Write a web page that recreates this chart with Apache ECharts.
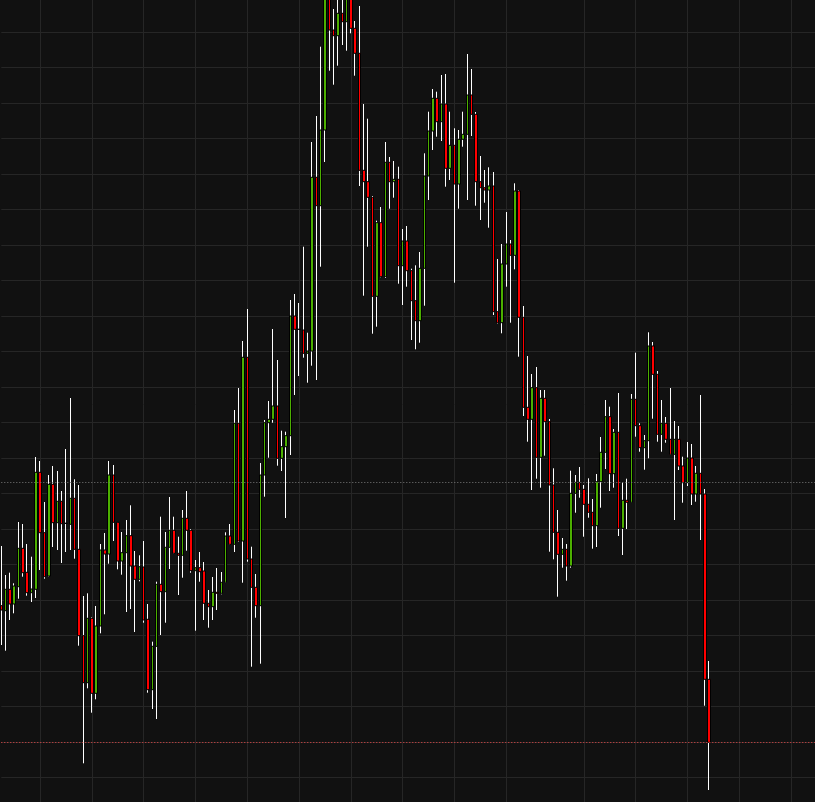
<!DOCTYPE html>
<html>
<head>
<meta charset="utf-8">
<script src="https://cdn.jsdelivr.net/npm/echarts@6/dist/echarts.min.js"></script>
<style>
html,body{margin:0;padding:0;background:#111111;overflow:hidden;width:815px;height:802px;}
#wrap{position:relative;width:815px;height:802px;overflow:hidden;background:#111111;}
#chart{position:absolute;left:0;top:-4px;width:820px;height:821px;}
</style>
</head>
<body>
<div id="wrap"><div id="chart"></div></div>
<script>
const opens = [20.73,20.23,22.37,20.90,22.63,26.47,24.07,22.03,22.37,34.07,
28.03,23.70,32.87,29.03,31.17,28.97,28.87,31.47,26.37,17.73,
13.03,19.47,11.97,18.70,26.30,25.90,33.80,29.07,25.20,26.03,
27.73,24.70,23.37,24.60,19.37,12.33,16.67,22.87,22.13,26.57,
28.27,25.97,25.77,29.47,28.27,24.23,24.53,24.20,20.97,20.63,
22.07,21.97,23.07,27.70,26.87,38.97,27.20,45.57,25.40,22.57,
20.73,33.80,39.03,39.37,40.70,35.47,36.63,37.73,49.70,48.37,
48.30,45.97,46.20,63.57,60.73,68.30,81.60,78.30,77.73,79.97,
79.13,81.50,78.47,75.97,64.27,63.13,61.57,51.67,59.03,53.63,
65.07,63.13,63.37,54.73,57.20,54.23,51.23,49.23,54.47,63.70,
68.20,71.47,69.13,70.90,64.47,66.77,62.90,67.37,67.87,71.80,
69.87,63.13,62.53,62.30,62.70,50.13,49.03,54.90,56.90,55.77,
62.20,49.57,40.57,39.37,42.53,35.57,41.47,39.13,32.80,28.07,
25.87,26.37,24.70,31.97,33.07,32.37,30.87,30.07,28.73,33.13,
36.07,39.63,33.93,38.07,28.47,31.27,31.07,41.37,38.73,36.53,
37.23,46.70,43.87,37.87,38.97,37.37,35.87,37.37,34.70,33.03,
35.50,31.90,33.97,31.90,13.37];

const closes = [20.30,22.37,20.90,22.70,26.47,24.03,22.03,22.40,34.07,28.03,
23.63,32.87,29.03,31.17,28.93,28.97,31.47,26.37,17.73,13.03,
19.47,11.97,18.70,26.30,25.90,33.80,29.07,25.20,26.03,27.73,
24.70,23.37,24.63,19.30,12.33,16.67,22.87,22.13,26.57,28.27,
25.97,25.77,29.47,28.27,24.23,24.53,24.13,20.97,20.63,22.07,
21.97,23.07,27.70,26.87,38.97,27.20,45.57,25.40,22.57,20.73,
33.80,39.03,39.37,40.70,35.47,36.63,37.73,49.70,48.37,48.37,
45.97,46.20,63.57,60.73,68.30,81.60,78.30,77.73,79.97,79.13,
81.50,78.47,75.97,64.27,63.13,61.57,51.67,59.03,53.63,65.07,
63.13,63.37,54.73,57.20,54.23,51.23,49.23,54.47,63.70,68.20,
71.47,69.13,70.90,64.47,66.77,62.90,67.37,67.87,71.80,69.87,
63.13,62.53,62.30,62.70,50.13,49.03,54.90,56.90,55.77,62.20,
49.57,40.57,39.37,42.53,35.57,41.47,39.13,32.80,28.07,25.87,
26.37,24.70,31.97,33.07,32.37,30.87,30.07,28.73,33.13,36.07,
39.63,33.93,38.07,28.47,31.27,31.07,41.37,38.73,36.53,37.23,
46.70,43.87,37.87,38.97,37.37,35.87,37.37,34.70,33.03,35.50,
31.90,33.97,31.90,13.37,7.07];

const lows = [16.80,16.23,19.30,19.97,21.43,23.63,21.73,21.10,21.50,24.30,
23.43,23.65,26.60,26.30,25.00,26.10,26.30,25.43,16.73,4.97,
12.47,10.03,11.37,17.97,19.87,24.93,27.20,24.37,23.83,20.10,
20.40,18.10,23.17,19.03,12.03,10.40,9.40,17.80,19.03,24.40,
25.90,21.80,23.53,26.23,24.03,18.23,23.13,19.30,18.53,19.30,
20.30,21.87,23.00,26.80,26.10,27.10,23.03,25.13,14.63,19.53,
14.93,31.63,35.53,39.03,34.73,34.20,29.50,35.80,41.80,43.70,
45.53,43.03,44.73,43.30,54.63,65.10,74.23,72.83,74.73,76.80,
76.23,77.97,73.73,62.70,51.73,56.63,47.93,48.63,53.57,53.50,
60.43,61.53,52.93,50.80,52.63,47.30,46.37,47.03,50.73,61.30,
66.30,67.63,67.20,62.63,63.30,53.03,60.43,66.63,61.30,67.70,
60.73,59.30,61.03,58.53,49.80,48.95,47.97,52.63,49.03,54.37,
45.63,39.70,37.13,32.30,33.43,32.53,35.73,26.13,25.37,21.63,
24.53,23.23,24.53,30.03,31.53,27.63,29.53,26.43,26.60,30.53,
34.40,32.20,32.53,27.70,25.80,28.40,31.03,37.63,36.13,34.33,
35.47,39.43,37.13,36.13,37.03,35.80,29.30,34.30,31.03,32.70,
30.80,31.13,27.30,10.73,2.30];

const highs = [26.70,23.80,24.03,22.97,29.10,28.90,26.90,25.63,35.60,35.20,
31.10,33.80,34.70,34.20,32.20,36.40,41.50,33.37,32.80,21.70,
21.97,19.57,20.70,26.90,28.00,35.20,34.80,29.10,28.10,29.30,
30.77,26.20,25.77,27.20,20.90,17.13,23.13,29.63,28.10,31.60,
29.63,27.63,30.30,32.20,28.40,25.30,26.10,25.10,22.30,23.60,
24.50,24.10,28.07,28.90,40.30,42.50,47.20,50.40,26.63,23.90,
35.00,39.30,41.20,48.40,45.30,38.23,38.13,51.30,51.90,51.00,
56.63,48.03,67.10,69.70,76.63,81.80,81.80,80.40,81.70,81.70,
81.70,81.70,79.20,80.70,70.90,69.43,61.70,59.23,60.60,67.10,
65.60,65.20,64.63,58.40,58.70,54.43,54.77,56.10,65.97,70.13,
72.40,72.13,73.80,73.90,70.13,68.47,68.30,70.13,75.90,74.40,
70.10,65.70,64.30,64.57,64.10,55.40,56.90,60.10,57.30,62.97,
62.30,50.70,45.70,43.90,44.60,42.30,42.30,39.40,34.47,30.30,
27.50,26.90,34.23,33.80,34.60,32.80,33.47,31.40,33.90,37.60,
41.30,40.63,38.40,42.00,33.03,33.43,41.90,46.03,38.97,37.80,
48.07,47.10,44.20,41.30,39.60,42.50,39.20,38.70,35.63,37.10,
36.90,34.70,41.80,32.40,15.20];

// horizontal reference levels
const refLevel = 33.08;
const lastClose = 7.07;

// category slots (visible bars plus empty space to the right)
const slotCount = 190;
const categories = Array.from({length: slotCount}, (_, i) => 'P' + (i + 1));
// category indexes carrying a vertical grid line
const gridLineIdx = [9,21,33,45,57,69,81,93,105,117,135,147,159,171,183];

const yMin = 0, yInterval = 3.551, yMax = 81.673;

const full = opens.map((o, i) => [o, closes[i], lows[i], highs[i]]);
const bodies = opens.map((o, i) => [o, closes[i], Math.min(o, closes[i]), Math.max(o, closes[i])]);

const chart = echarts.init(document.getElementById('chart'), null, {renderer: 'canvas'});
const gridSet = new Set(gridLineIdx);
chart.setOption({
  backgroundColor: '#111111',
  animation: false,
  grid: {left: 1.3, width: 815.7, top: 0.27, height: 816.73},
  xAxis: {
    type: 'category',
    data: categories,
    boundaryGap: false,
    axisLine: {show: false},
    axisTick: {show: false},
    axisLabel: {show: false},
    splitLine: {
      show: true,
      interval: (idx) => gridSet.has(idx),
      lineStyle: {color: '#262626', width: 1}
    }
  },
  yAxis: {
    type: 'value',
    min: yMin, max: yMax, interval: yInterval,
    axisLine: {show: false},
    axisTick: {show: false},
    axisLabel: {show: false},
    splitLine: {show: true, lineStyle: {color: '#262626', width: 1}}
  },
  series: [
    {
      type: 'candlestick',
      data: full,
      barWidth: 1,
      clip: false,
      silent: true,
      itemStyle: {color: '#ffffff', color0: '#ffffff', borderColor: '#ffffff', borderColor0: '#ffffff', borderColorDoji: '#ffffff', borderWidth: 1}
    },
    {
      type: 'candlestick',
      data: bodies,
      barWidth: 3,
      clip: false,
      silent: true,
      itemStyle: {color: '#4caf00', color0: '#ff0000', borderColor: '#000000', borderColor0: '#000000', borderColorDoji: '#000000', borderWidth: 1},
      markLine: {
        silent: true,
        symbol: 'none',
        label: {show: false},
        animation: false,
        data: [
          {yAxis: refLevel, lineStyle: {color: '#7a7a7a', width: 1, type: [1, 2]}},
          {yAxis: lastClose, lineStyle: {color: '#e84a4a', width: 1, type: [1, 2]}}
        ]
      }
    }
  ]
});
</script>
</body>
</html>
